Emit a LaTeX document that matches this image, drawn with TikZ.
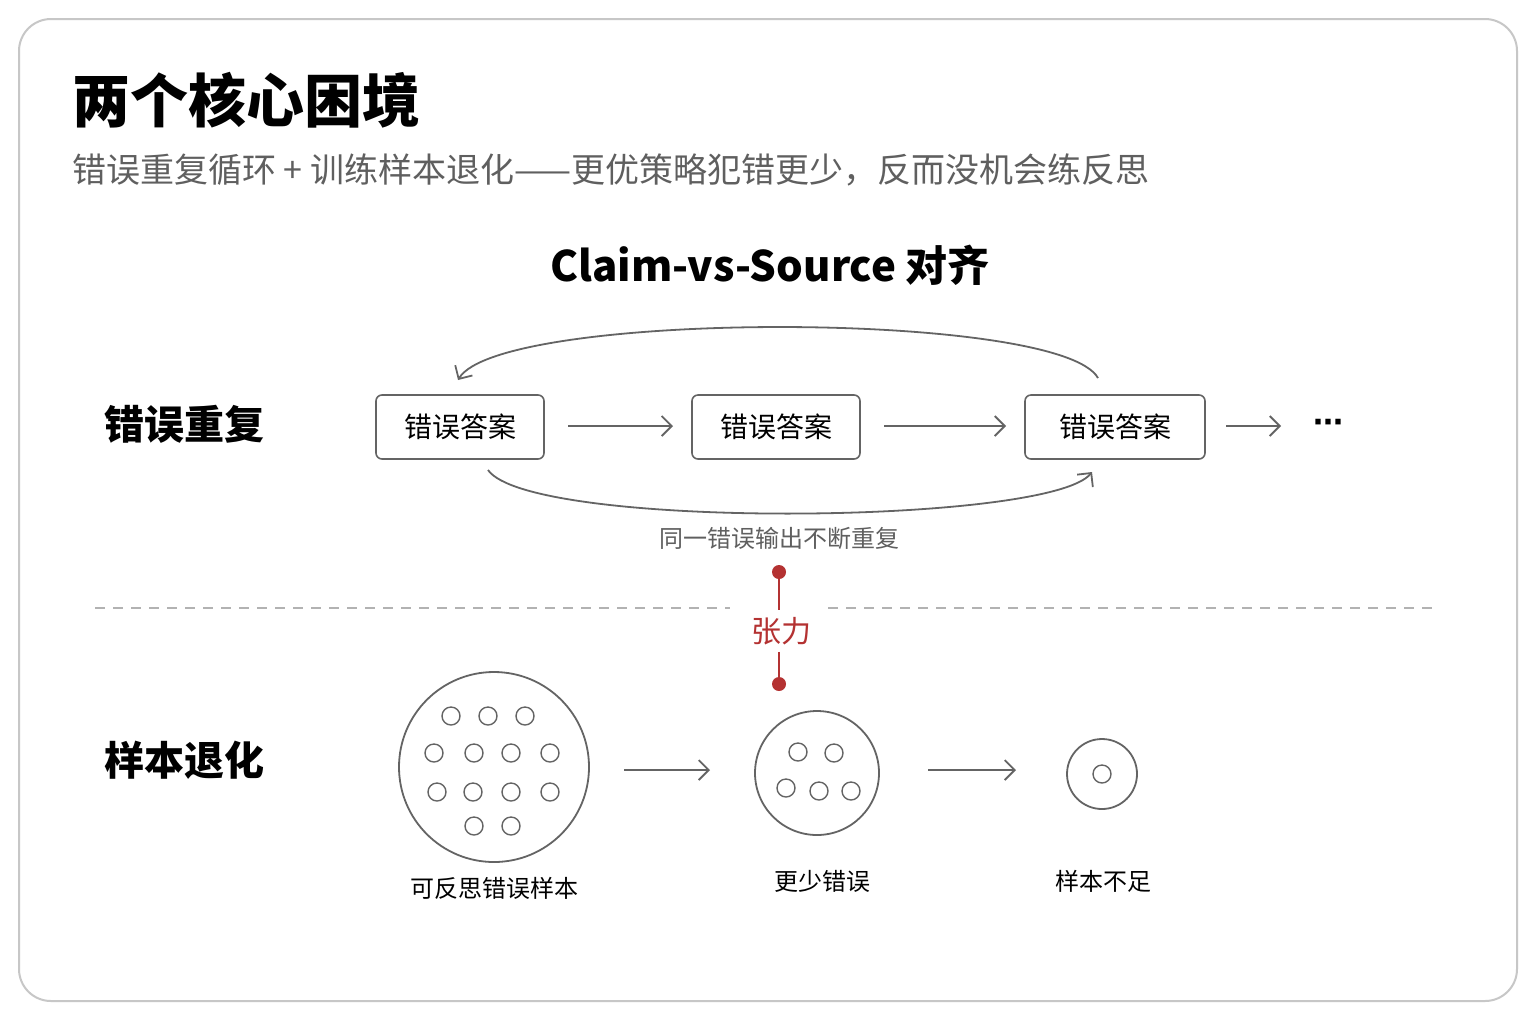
\documentclass[tikz,border=0pt]{standalone}
\usepackage{fontspec}
\setmainfont{Noto Sans CJK SC}
\newfontfamily\dejavu{DejaVu Sans}
\usepackage{tikz}
\usetikzlibrary{arrows.meta}
\definecolor{linegray}{RGB}{100,100,100}
\definecolor{textgray}{RGB}{95,95,95}
\definecolor{tensionred}{RGB}{180,50,50}
\begin{document}
\begin{tikzpicture}
  [ x=0.5pt, y=-0.5pt,
    box/.style={draw=linegray, rounded corners=3pt, line width=0.8pt,
      minimum height=32pt, font=\fontsize{14}{16}\selectfont},
    flow/.style={draw=linegray, line width=0.9pt, -{Straight Barb[length=5pt,width=10pt]}},
    dot/.style={circle, draw=linegray, line width=0.7pt, minimum size=9pt, inner sep=0pt},
    pool/.style={circle, draw=linegray, line width=0.9pt, inner sep=0pt},
    poolcap/.style={font=\fontsize{12}{14}\selectfont},
    tip/.style={circle, fill=tensionred, minimum size=7pt, inner sep=0pt}
  ]
  \fill[white] (0,0) rectangle (1536,1024);
  \draw[draw=black!22, line width=1pt, rounded corners=16pt] (19,19) rectangle (1517,1001);

  % heading
  \node (title) at (72,100) [anchor=west, inner sep=0pt, font=\fontsize{29}{32}\selectfont\bfseries] {两个核心困境};
  \node (subtitle) at (72,170) [anchor=west, inner sep=0pt, text=textgray, font=\fontsize{17}{19}\selectfont]
    {错误重复循环 + 训练样本退化——更优策略犯错更少，反而没机会练反思};
  \node (claim) at (770,265) [font=\fontsize{21}{24}\selectfont\bfseries] {Claim-vs-Source 对齐};

  % row one
  \node (rowRepeat) at (104,424) [anchor=west, inner sep=0pt, font=\fontsize{20}{24}\selectfont\bfseries] {错误重复};
  \node (ans1) at (460,427) [box, minimum width=84pt] {错误答案};
  \node (ans2) at (776,427) [box, minimum width=84pt] {错误答案};
  \node (ans3) at (1115,427) [box, minimum width=90pt] {错误答案};
  \node (more) at (1328,426) [font=\dejavu\fontsize{15}{18}\selectfont\bfseries] {⋯};
  \coordinate (m1a) at (568,426); \coordinate (m1b) at (673,426);
  \coordinate (m2a) at (884,426); \coordinate (m2b) at (1006,426);
  \coordinate (m3a) at (1226,426); \coordinate (m3b) at (1281,426);
  \draw [flow] (m1a) -- (m1b);
  \draw [flow] (m2a) -- (m2b);
  \draw [flow] (m3a) -- (m3b);
  \coordinate (topA) at (1098,378); \coordinate (topB) at (458,380);
  \draw [flow] (topA) .. controls (1060,310) and (500,310) .. (topB);
  \coordinate (botA) at (488,470); \coordinate (botB) at (1092,472);
  \draw [flow] (botA) .. controls (530,530) and (1050,525) .. (botB);
  \node (loopLabel) at (779,538) [poolcap, text=textgray] {同一错误输出不断重复};

  % divider and tension
  \coordinate (d1) at (95,608); \coordinate (d2) at (730,608);
  \coordinate (d3) at (828,608); \coordinate (d4) at (1435,608);
  \draw [black!30, dash pattern=on 5pt off 4pt, line width=0.7pt] (d1) -- (d2) (d3) -- (d4);
  \node (tipTop) at (779,572) [tip] {};
  \node (tension) at (781,631) [text=tensionred, font=\fontsize{15}{18}\selectfont] {张力};
  \node (tipBot) at (779,684) [tip] {};
  \draw [tensionred, line width=1.2pt] (tipTop) -- (tipTop |- tension.north) (tipBot |- tension.south) -- (tipBot);

  % row two
  \node (rowDecay) at (104,760) [anchor=west, inner sep=0pt, font=\fontsize{20}{24}\selectfont\bfseries] {样本退化};
  \node (poolA) at (494,767) [pool, minimum size=95pt] {};
  \foreach \px/\py in {451/716,488/716,525/716,434/753,474/753,511/753,550/753,
                       437/792,473/792,511/792,550/792,474/826,511/826}
    \node at (\px,\py) [dot] {};
  \node (poolB) at (817,773) [pool, minimum size=62pt] {};
  \foreach \px/\py in {798/752,834/753,786/788,819/791,851/791}
    \node at (\px,\py) [dot] {};
  \node (poolC) at (1102,774) [pool, minimum size=35pt] {};
  \node at (1102,774) [dot] {};
  \coordinate (p1a) at (624,770); \coordinate (p1b) at (710,770);
  \coordinate (p2a) at (928,770); \coordinate (p2b) at (1016,770);
  \draw [flow] (p1a) -- (p1b);
  \draw [flow] (p2a) -- (p2b);
  \node (capA) at (494,888) [poolcap] {可反思错误样本};
  \node (capB) at (822,881) [poolcap] {更少错误};
  \node (capC) at (1103,881) [poolcap] {样本不足};
\end{tikzpicture}
\end{document}
